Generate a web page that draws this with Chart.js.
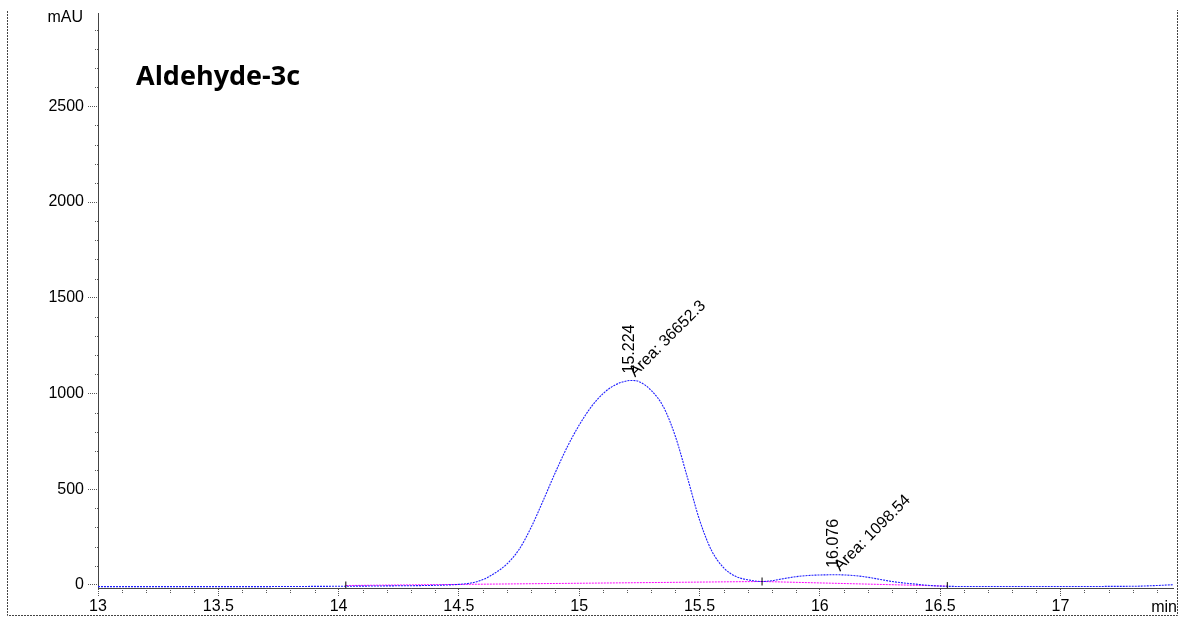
<!DOCTYPE html>
<html>
<head>
<meta charset="utf-8">
<script src="https://cdn.jsdelivr.net/npm/chart.js@4.4.1/dist/chart.umd.min.js"></script>
<style>
html,body{margin:0;padding:0;background:#fff;}
#wrap{width:1178px;height:617px;position:relative;}
</style>
</head>
<body>
<div id="wrap"><canvas id="c" width="1178" height="617"></canvas></div>
<script>
// ---- data ----
const chartTitle = 'Aldehyde-3c';
const times  = [13.00, 13.50, 14.00, 14.20, 14.40, 14.50, 14.55, 14.60, 14.65, 14.70, 14.75, 14.80, 14.85, 14.90, 14.95, 15.00, 15.05, 15.10, 15.15, 15.20, 15.224, 15.25, 15.30, 15.35, 15.40, 15.45, 15.50, 15.55, 15.60, 15.65, 15.70, 15.76, 15.80, 15.85, 15.90, 15.95, 16.00, 16.076, 16.15, 16.20, 16.25, 16.30, 16.35, 16.40, 16.45, 16.50, 16.60, 17.00, 17.30, 17.40, 17.468];
const signal = [-9, -9, -7, -5, -2, 3, 10, 28, 62, 110, 185, 300, 440, 585, 720, 835, 930, 1000, 1045, 1066, 1068, 1061, 1015, 930, 775, 560, 340, 180, 90, 45, 27, 18, 22, 33, 43, 49, 52, 53, 48, 40, 29, 18, 10, 4, -2, -6, -8, -8, -7, -3, 1];
const baselineTimes  = [14.03, 15.76, 16.53];
const baselineValues = [-3, 18, -6];
const peakTimes   = [15.224, 16.076];
const peakHeights = [1068, 53];
const peakLabels  = ['15.224', '16.076'];
const peakAreas   = ['36652.3', '1098.54'];
const xTickValues = [13, 13.5, 14, 14.5, 15, 15.5, 16, 16.5, 17];
const yTickValues = [0, 500, 1000, 1500, 2000, 2500];
const xMinorStep = 0.1, yMinorStep = 100;
const xMin = 13, xMax = 17.468, yMin = -16, yMax = 2984;
const yUnit = 'mAU', xUnit = 'min';

const tickFont = {family: '"Liberation Sans", Arial, sans-serif', size: 16};

const decor = {
  id: 'decor',
  afterDraw(chart) {
    const ctx = chart.ctx, xs = chart.scales.x, ys = chart.scales.y, ca = chart.chartArea;
    ctx.save();
    // outer dotted frame
    ctx.strokeStyle = '#444'; ctx.lineWidth = 1; ctx.setLineDash([2, 1]);
    ctx.beginPath();
    ctx.moveTo(7.5, 11); ctx.lineTo(7.5, 615.5); ctx.lineTo(1177.5, 615.5); ctx.lineTo(1177.5, 10);
    ctx.stroke();
    // minor ticks
    ctx.setLineDash([1, 1]); ctx.strokeStyle = '#555';
    ctx.beginPath();
    for (let k = 0; xMin + k * xMinorStep <= xMax + 1e-9; k++) {
      const r = Math.round((xMin + k * xMinorStep) * 10) / 10;
      if (xTickValues.some(t => Math.abs(t - r) < 1e-6)) continue;
      const px = Math.round(xs.getPixelForValue(r)) + 0.5;
      ctx.moveTo(px, ca.bottom); ctx.lineTo(px, ca.bottom + 5);
    }
    for (let v = 0; v <= yMax; v += yMinorStep) {
      if (yTickValues.includes(v)) continue;
      const py = Math.round(ys.getPixelForValue(v)) + 0.5;
      ctx.moveTo(ca.left, py); ctx.lineTo(ca.left - 4, py);
    }
    ctx.stroke();
    ctx.setLineDash([]);
    // unit labels
    ctx.fillStyle = '#000';
    ctx.font = '16px "Liberation Sans", Arial, sans-serif';
    ctx.textAlign = 'right'; ctx.textBaseline = 'middle';
    ctx.fillText(yUnit, 83, 18);
    ctx.fillText(xUnit, 1177, 608);
    // title
    ctx.font = 'bold 27px "Open Sans", sans-serif';
    ctx.textAlign = 'left'; ctx.textBaseline = 'alphabetic';
    ctx.fillText(chartTitle, 136, 85);
    // peak annotations
    ctx.font = '16px "Liberation Sans", Arial, sans-serif';
    for (let i = 0; i < peakTimes.length; i++) {
      const px = xs.getPixelForValue(peakTimes[i]);
      const py = ys.getPixelForValue(peakHeights[i]);
      ctx.save();
      ctx.translate(px - 4, py - 7);
      ctx.rotate(-Math.PI / 2);
      ctx.textAlign = 'left'; ctx.textBaseline = 'middle';
      ctx.fillText(peakLabels[i], 0, 0);
      ctx.restore();
      ctx.save();
      ctx.translate(px + 2, py - 3);
      ctx.rotate(-Math.PI / 4);
      ctx.textAlign = 'left'; ctx.textBaseline = 'alphabetic';
      ctx.fillText('Area: ' + peakAreas[i], 0, 0);
      ctx.restore();
    }
    ctx.restore();
  }
};

new Chart(document.getElementById('c'), {
  type: 'line',
  data: {
    datasets: [
      {
        label: 'baseline',
        data: baselineTimes.map((t, i) => ({x: t, y: baselineValues[i]})),
        borderColor: '#ff00ff', borderWidth: 1, borderDash: [2, 1],
        pointRadius: 0, tension: 0, order: 2
      },
      {
        label: 'signal',
        data: times.map((t, i) => ({x: t, y: signal[i]})),
        borderColor: '#1f1fff', borderWidth: 1.1, borderDash: [2, 1],
        pointRadius: 0, cubicInterpolationMode: 'monotone', order: 1
      },
      {
        label: 'events',
        data: baselineTimes.map((t, i) => ({x: t, y: baselineValues[i]})),
        showLine: false, pointStyle: 'line', rotation: 90, pointRadius: 4,
        borderColor: '#000', borderWidth: 1, order: 0
      }
    ]
  },
  options: {
    responsive: false, animation: false,
    layout: {padding: {left: 0, right: 1, top: 12, bottom: 0}},
    plugins: {legend: {display: false}, tooltip: {enabled: false}},
    scales: {
      x: {
        type: 'linear', min: xMin, max: xMax,
        afterBuildTicks(s) { s.ticks = xTickValues.map(v => ({value: v})); },
        afterFit(s) { s.height = 29; },
        border: {display: true, color: '#444', dash: [1, 1]},
        grid: {display: true, drawOnChartArea: false, drawTicks: true, tickLength: 9, tickColor: '#555', tickBorderDash: [1, 1]},
        ticks: {padding: 0, color: '#000', font: tickFont, maxRotation: 0, autoSkip: false,
          callback: v => String(v)}
      },
      y: {
        type: 'linear', min: yMin, max: yMax,
        afterBuildTicks(s) { s.ticks = yTickValues.map(v => ({value: v})); },
        afterFit(s) { s.width = 98; },
        border: {display: true, color: '#444', dash: [1, 1]},
        grid: {display: true, drawOnChartArea: false, drawTicks: true, tickLength: 10, tickColor: '#555', tickBorderDash: [1, 1]},
        ticks: {padding: 4, color: '#000', font: tickFont, autoSkip: false,
          callback: v => String(v)}
      }
    }
  },
  plugins: [decor]
});
</script>
</body>
</html>
